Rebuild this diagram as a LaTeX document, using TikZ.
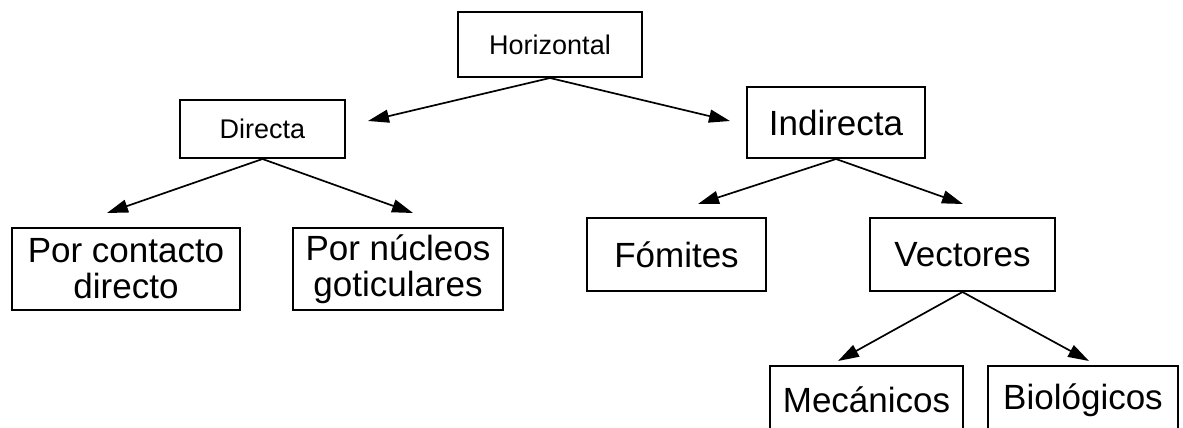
\documentclass[tikz,border=0pt]{standalone}
\usepackage{fontspec}
\setmainfont{Liberation Sans}
\usetikzlibrary{arrows.meta}
\begin{document}
\begin{tikzpicture}[x=1pt,y=-1pt,
  box/.style={draw=black, line width=2pt, inner sep=0pt, align=center},
  big/.style={font=\fontsize{35}{36}\selectfont},
  small/.style={font=\fontsize{27}{30}\selectfont},
  arr/.style={line width=1.7pt, -{Triangle[length=21pt,width=13pt]}}]
\useasboundingbox (0,0) rectangle (1183,428);
\clip (0,0) rectangle (1183,428);
\fill[white] (0,0) rectangle (1183,428);

\node[box,small,minimum width=184pt,minimum height=65pt] (hor) at (550,44.5) {Horizontal};
\node[box,small,minimum width=165pt,minimum height=58pt] (dir) at (262.5,129) {Directa};
\node[box,big,minimum width=178pt,minimum height=71pt] (ind) at (836,122.5) {Indirecta};
\node[box,big,minimum width=228pt,minimum height=82pt] (pcd) at (126,269) {Por contacto\\directo};
\node[box,big,minimum width=210pt,minimum height=82pt] (png) at (398,269) {Por núcleos\\goticulares};
\node[box,big,minimum width=179pt,minimum height=73pt] (fom) at (676.5,254.5) {Fómites};
\node[box,big,minimum width=185pt,minimum height=73pt] (vec) at (962.5,254.5) {Vectores};
\node[box,big,minimum width=193pt,minimum height=68pt] (mec) at (866.5,400) {Mecánicos};
\node[box,big,minimum width=190pt,minimum height=68pt] (bio) at (1083,400) {Biológicos};

\coordinate (tHD) at (368,121);
\coordinate (tHI) at (730,121);
\coordinate (tDP) at (107,213);
\coordinate (tDN) at (413,213);
\coordinate (tIF) at (698,204);
\coordinate (tIV) at (963,204);
\coordinate (tVM) at (838,361);
\coordinate (tVB) at (1089,361);

\draw[arr] (hor.south) -- (tHD);
\draw[arr] (hor.south) -- (tHI);
\draw[arr] (dir.south) -- (tDP);
\draw[arr] (dir.south) -- (tDN);
\draw[arr] (ind.south) -- (tIF);
\draw[arr] (ind.south) -- (tIV);
\draw[arr] (vec.south) -- (tVM);
\draw[arr] (vec.south) -- (tVB);
\end{tikzpicture}
\end{document}
